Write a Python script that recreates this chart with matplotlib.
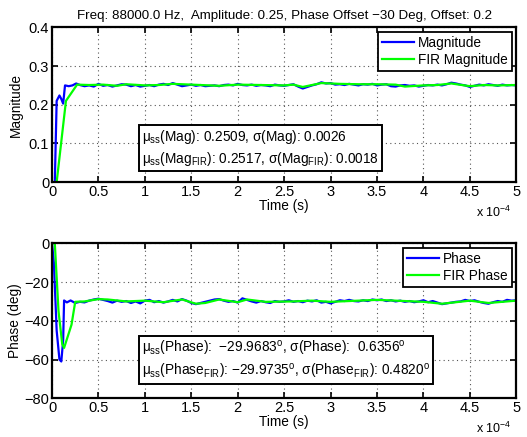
import matplotlib
matplotlib.use("Agg")
import matplotlib.pyplot as plt

plt.rcParams['font.family'] = ['Liberation Sans', 'DejaVu Sans']
plt.rcParams['mathtext.fontset'] = 'custom'
plt.rcParams['mathtext.rm'] = 'Liberation Sans'
plt.rcParams['mathtext.it'] = 'Liberation Sans'

# time in units of 1e-4 s
t_mag = [0, 0.03, 0.05, 0.08, 0.10, 0.12, 0.14, 0.18, 0.22, 0.26, 0.30, 0.35, 0.40, 0.45, 0.50,
         0.55, 0.60, 0.65, 0.70, 0.75, 0.80, 0.85, 0.90, 0.95, 1.00, 1.05, 1.10, 1.15, 1.20,
         1.25, 1.30, 1.35, 1.40, 1.45, 1.50, 1.55, 1.60, 1.65, 1.70, 1.75, 1.80, 1.85, 1.90,
         1.95, 2.00, 2.05, 2.10, 2.15, 2.20, 2.25, 2.30, 2.35, 2.40, 2.45, 2.50, 2.55, 2.60,
         2.65, 2.70, 2.75, 2.80, 2.85, 2.90, 2.95, 3.00, 3.05, 3.10, 3.15, 3.20, 3.25, 3.30,
         3.35, 3.40, 3.45, 3.50, 3.55, 3.60, 3.65, 3.70, 3.75, 3.80, 3.85, 3.90, 3.95, 4.00,
         4.05, 4.10, 4.15, 4.20, 4.25, 4.30, 4.35, 4.40, 4.45, 4.50, 4.55, 4.60, 4.65, 4.70,
         4.75, 4.80, 4.85, 4.90, 4.95, 5.00]
mag = [0.0, 0.0, 0.210, 0.224, 0.215, 0.203, 0.250, 0.248, 0.250, 0.255, 0.251, 0.248, 0.250,
       0.247, 0.254, 0.249, 0.251, 0.247, 0.250, 0.253, 0.252, 0.248, 0.251, 0.247, 0.249,
       0.251, 0.248, 0.252, 0.254, 0.251, 0.256, 0.252, 0.248, 0.250, 0.252, 0.249, 0.251,
       0.248, 0.249, 0.250, 0.248, 0.251, 0.252, 0.250, 0.254, 0.251, 0.250, 0.252, 0.249,
       0.251, 0.250, 0.248, 0.252, 0.250, 0.249, 0.251, 0.253, 0.247, 0.242, 0.246, 0.250,
       0.253, 0.258, 0.255, 0.256, 0.252, 0.253, 0.251, 0.254, 0.252, 0.250, 0.253, 0.252,
       0.254, 0.250, 0.252, 0.253, 0.248, 0.247, 0.250, 0.251, 0.249, 0.250, 0.247, 0.249,
       0.251, 0.250, 0.252, 0.250, 0.253, 0.257, 0.255, 0.252, 0.250, 0.246, 0.249, 0.252,
       0.250, 0.253, 0.251, 0.249, 0.252, 0.250, 0.251, 0.250]

t_fir_mag = [0, 0.05, 0.15, 0.27, 0.40, 0.55, 0.70, 0.80, 1.00, 1.15, 1.30, 1.50, 1.80, 2.00,
             2.25, 2.50, 2.60, 2.70, 2.80, 2.90, 3.10, 3.30, 3.50, 3.70, 3.80, 4.00, 4.15,
             4.30, 4.50, 4.65, 4.80, 5.00]
fir_mag = [0.0, 0.0, 0.210, 0.252, 0.251, 0.252, 0.249, 0.253, 0.250, 0.251, 0.254, 0.252,
           0.249, 0.252, 0.251, 0.250, 0.252, 0.246, 0.251, 0.256, 0.254, 0.253, 0.253,
           0.252, 0.247, 0.250, 0.251, 0.255, 0.248, 0.251, 0.250, 0.251]

t_ph = [0, 0.02, 0.05, 0.08, 0.10, 0.12, 0.13, 0.16, 0.20, 0.25, 0.30, 0.35, 0.40, 0.45, 0.50,
        0.55, 0.60, 0.65, 0.70, 0.75, 0.80, 0.85, 0.90, 0.95, 1.00, 1.05, 1.10, 1.15, 1.20,
        1.25, 1.30, 1.35, 1.40, 1.45, 1.50, 1.55, 1.60, 1.65, 1.70, 1.75, 1.80, 1.85, 1.90,
        1.95, 2.00, 2.05, 2.10, 2.15, 2.20, 2.25, 2.30, 2.35, 2.40, 2.45, 2.50, 2.55, 2.60,
        2.65, 2.70, 2.75, 2.80, 2.85, 2.90, 2.95, 3.00, 3.05, 3.10, 3.15, 3.20, 3.25, 3.30,
        3.35, 3.40, 3.45, 3.50, 3.55, 3.60, 3.65, 3.70, 3.75, 3.80, 3.85, 3.90, 3.95, 4.00,
        4.05, 4.10, 4.15, 4.20, 4.25, 4.30, 4.35, 4.40, 4.45, 4.50, 4.55, 4.60, 4.65, 4.70,
        4.75, 4.80, 4.85, 4.90, 4.95, 5.00]
phase = [0.0, -10.0, -45.0, -60.0, -61.0, -50.0, -29.5, -30.5, -29.5, -30.8, -30.2, -30.5,
         -29.6, -29.0, -28.6, -29.2, -29.8, -30.6, -29.6, -30.2, -29.8, -30.8, -30.0, -31.0,
         -29.6, -29.2, -30.4, -29.8, -30.6, -30.0, -29.2, -30.0, -28.8, -29.6, -30.8, -31.4,
         -30.8, -30.2, -29.6, -29.0, -28.8, -29.6, -30.2, -29.8, -30.6, -28.4, -29.2, -30.0,
         -30.6, -29.8, -30.4, -30.8, -29.8, -30.2, -30.0, -29.4, -30.2, -29.8, -30.4, -29.6,
         -30.0, -29.4, -30.6, -30.2, -31.0, -30.2, -29.4, -29.8, -29.2, -29.8, -30.0, -29.4,
         -29.8, -29.0, -29.4, -29.0, -29.8, -29.4, -30.0, -29.6, -30.2, -29.8, -30.4, -30.0,
         -29.4, -30.4, -29.8, -30.6, -31.4, -31.0, -30.6, -30.2, -30.0, -29.2, -29.8, -29.4,
         -30.2, -30.8, -31.2, -30.4, -29.8, -30.2, -29.2, -29.6, -29.4]

t_fir_ph = [0, 0.03, 0.07, 0.11, 0.13, 0.17, 0.21, 0.25, 0.35, 0.50, 0.60, 0.80, 1.00, 1.20,
            1.40, 1.55, 1.65, 1.80, 2.00, 2.10, 2.30, 2.60, 2.80, 3.00, 3.20, 3.50, 3.70,
            4.00, 4.20, 4.50, 4.70, 5.00]
fir_phase = [0.0, 0.0, -35.0, -52.0, -54.0, -48.0, -42.0, -30.2, -30.0, -28.8, -29.0, -30.0,
             -29.6, -30.4, -29.0, -31.2, -30.8, -29.0, -30.4, -29.0, -30.2, -30.0, -29.6,
             -30.2, -29.8, -29.2, -29.6, -30.2, -31.2, -29.6, -30.8, -29.6]

x_ticks = [0, 0.5, 1, 1.5, 2, 2.5, 3, 3.5, 4, 4.5, 5]
x_tick_labels = ['0', '0.5', '1', '1.5', '2', '2.5', '3', '3.5', '4', '4.5', '5']

title = "Freq: 88000.0 Hz,  Amplitude: 0.25, Phase Offset \u221230 Deg, Offset: 0.2"
mag_text = ("\u03bc$_{\\mathrm{ss}}$(Mag): 0.2509, \u03c3(Mag): 0.0026\n"
            "\u03bc$_{\\mathrm{ss}}$(Mag$_{\\mathrm{FIR}}$): 0.2517, \u03c3(Mag$_{\\mathrm{FIR}}$): 0.0018")
ph_text = ("\u03bc$_{\\mathrm{ss}}$(Phase):  \u221229.9683$^{\\mathrm{o}}$, \u03c3(Phase):  0.6356$^{\\mathrm{o}}$\n"
           "\u03bc$_{\\mathrm{ss}}$(Phase$_{\\mathrm{FIR}}$): \u221229.9735$^{\\mathrm{o}}$, \u03c3(Phase$_{\\mathrm{FIR}}$): 0.4820$^{\\mathrm{o}}$")

blue = '#0000ff'
green = '#00ff00'
FS = 9.8

fig = plt.figure(figsize=(5.27, 4.37), dpi=100)
ax1 = fig.add_axes([0.0987, 0.583, 0.881, 0.3545])
ax2 = fig.add_axes([0.0987, 0.0886, 0.881, 0.3546])

def style(ax, ylim, yticks):
    ax.set_xlim(0, 5)
    ax.set_ylim(*ylim)
    ax.set_xticks(x_ticks)
    ax.set_xticklabels(x_tick_labels)
    ax.set_yticks(yticks)
    ax.tick_params(direction='in', length=4, width=1.2, labelsize=10.5, pad=2, top=True, right=True)
    for s in ax.spines.values():
        s.set_linewidth(1.6)
    ax.grid(True, linestyle=(0, (1, 3)), color='#555555', linewidth=0.8)
    ax.set_xlabel('Time (s)', fontsize=FS, labelpad=0)
    ax.annotate("x 10$^{-4}$", xy=(1.0, 0.0), xycoords='axes fraction', xytext=(-5, -30),
                textcoords='offset pixels', ha='right', va='center', fontsize=9)

def legend(ax):
    leg = ax.legend(loc='upper right', fontsize=FS, fancybox=False, framealpha=1, edgecolor='black',
                    handlelength=2.3, borderpad=0.3, labelspacing=0.2, handletextpad=0.3,
                    borderaxespad=0.35)
    leg.get_frame().set_linewidth(1.3)

ax1.plot(t_mag, mag, color=blue, lw=1.6, label='Magnitude')
ax1.plot(t_fir_mag, fir_mag, color=green, lw=1.6, label='FIR Magnitude')
style(ax1, (0, 0.4), [0, 0.1, 0.2, 0.3, 0.4])
ax1.set_yticklabels(['0', '0.1', '0.2', '0.3', '0.4'])
ax1.set_ylabel('Magnitude', fontsize=FS, labelpad=4)
ax1.set_title(title, fontsize=9.6, pad=6)
legend(ax1)
ax1.text(0.97, 0.141, mag_text, fontsize=FS, linespacing=1.3, va='top', ha='left',
         bbox=dict(boxstyle='square,pad=0.22', fc='white', ec='black', lw=1.4))

ax2.plot(t_ph, phase, color=blue, lw=1.6, label='Phase')
ax2.plot(t_fir_ph, fir_phase, color=green, lw=1.6, label='FIR Phase')
style(ax2, (-80, 0), [-80, -60, -40, -20, 0])
ax2.set_yticklabels(['\u221280', '\u221260', '\u221240', '\u221220', '0'])
ax2.set_ylabel('Phase (deg)', fontsize=FS, labelpad=2)
legend(ax2)
ax2.text(0.97, -49.5, ph_text, fontsize=FS, linespacing=1.3, va='top', ha='left',
         bbox=dict(boxstyle='square,pad=0.22', fc='white', ec='black', lw=1.4))

fig.savefig('out.png', dpi=100)
